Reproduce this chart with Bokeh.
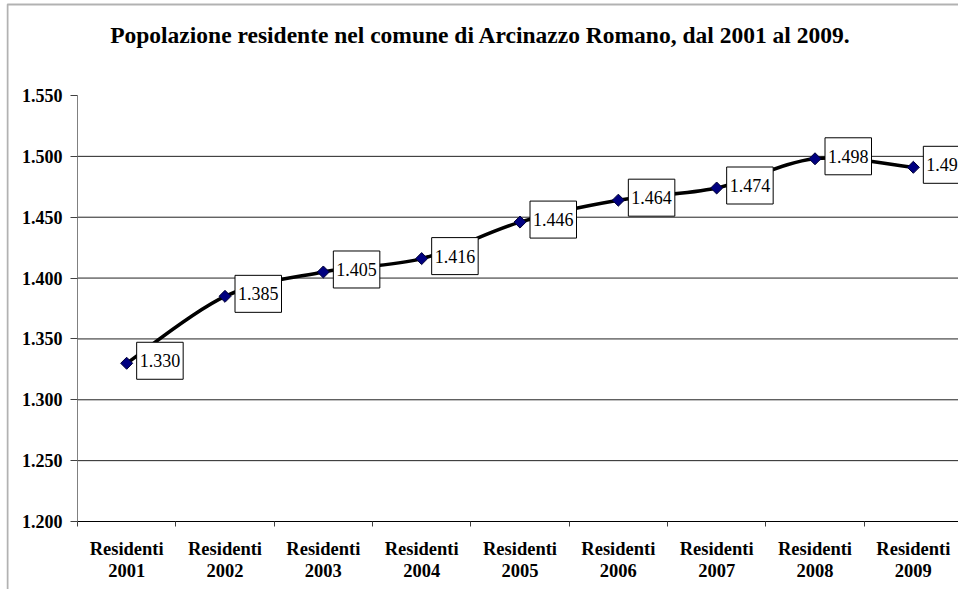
import numpy as np
from bokeh.plotting import figure
from bokeh.models import ColumnDataSource, FixedTicker, Range1d, BoxAnnotation
from bokeh.core.properties import value
from bokeh.embed import file_html
from bokeh.resources import INLINE

# ---- data ----
years = [2001, 2002, 2003, 2004, 2005, 2006, 2007, 2008, 2009]
categories = ["Residenti\n%d" % y for y in years]
residents = [1330, 1385, 1405, 1416, 1446, 1464, 1474, 1498, 1491]
y_ticks = [1200, 1250, 1300, 1350, 1400, 1450, 1500, 1550]
y_tick_labels = ["1.200", "1.250", "1.300", "1.350", "1.400", "1.450", "1.500", "1.550"]
title_text = "Popolazione residente nel comune di Arcinazzo Romano, dal 2001 al 2009."

def it_fmt(v):
    return "%d.%03d" % (v // 1000, v % 1000)

n = len(categories)
xc = np.arange(n) + 0.5
yv = np.array(residents, dtype=float)

# smoothed line (Excel-style cubic Bezier segments through the points)
xp = np.r_[xc[0], xc, xc[-1]]
yp = np.r_[yv[0], yv, yv[-1]]
seg = dict(
    x0=xc[:-1], y0=yv[:-1], x1=xc[1:], y1=yv[1:],
    cx0=xc[:-1] + (xp[2:-1] - xp[0:-3]) / 6.0,
    cy0=yv[:-1] + (yp[2:-1] - yp[0:-3]) / 6.0,
    cx1=xc[1:] - (xp[3:] - xp[1:-2]) / 6.0,
    cy1=yv[1:] - (yp[3:] - yp[1:-2]) / 6.0,
)

src = ColumnDataSource(dict(x=xc, y=yv, lab=[it_fmt(v) for v in residents]))

SERIF = "Liberation Serif"

# ---- layout (pixels) ----
W, H = 958, 589
FRAME_L = 6                                     # drawing frame starts at the chart border
PLOT_L, PLOT_T, PLOT_B = 77, 95, 521            # value area: left, top (1.550), bottom (1.200)
CAT_PX = 885.0 / n                              # width of one category
PXU = (PLOT_B - PLOT_T) / float(y_ticks[-1] - y_ticks[0])   # px per resident

def xd(px):   # canvas x pixel -> data x
    return (px - PLOT_L) / CAT_PX

def yd(py):   # canvas y pixel -> data y
    return y_ticks[0] + (PLOT_B - py) / PXU

p = figure(width=W, height=H, title=None,
           x_range=Range1d(xd(FRAME_L), xd(W)), y_range=Range1d(yd(H), yd(0)),
           output_backend="svg", toolbar_location=None,
           min_border_left=FRAME_L, min_border_right=0,
           min_border_top=0, min_border_bottom=0)
p.outline_line_color = None
p.background_fill_color = "white"
p.border_fill_color = "white"

# grid lines (only across the value area)
p.xgrid.visible = False
p.ygrid.visible = False
grid_y = y_ticks[1:-1]
p.segment(x0=[0] * len(grid_y), x1=[n] * len(grid_y), y0=grid_y, y1=grid_y,
          line_color="#222222", line_width=1)

# y axis, pinned at the left edge of the value area
p.yaxis.fixed_location = 0
p.yaxis.bounds = (y_ticks[0], y_ticks[-1])
p.yaxis.ticker = FixedTicker(ticks=y_ticks)
p.yaxis.major_label_overrides = {t: l for t, l in zip(y_ticks, y_tick_labels)}
p.yaxis.axis_line_color = "#808080"
p.yaxis.major_tick_line_color = "#404040"
p.yaxis.major_tick_out = 7
p.yaxis.major_tick_in = 0
p.yaxis.minor_tick_line_color = None
p.yaxis.major_label_standoff = 8
p.yaxis.major_label_text_font = SERIF
p.yaxis.major_label_text_font_style = "bold"
p.yaxis.major_label_text_font_size = "18px"
p.yaxis.major_label_text_color = "black"

# x axis pinned at 1.200: labels at category centres, ticks at category boundaries
p.xaxis.fixed_location = y_ticks[0]
p.xaxis.bounds = (0, n)
p.xaxis.ticker = FixedTicker(ticks=list(xc), minor_ticks=list(range(n + 1)))
p.xaxis.major_label_overrides = {float(x): c for x, c in zip(xc, categories)}
p.xaxis.axis_line_color = "black"
p.xaxis.major_tick_line_color = None
p.xaxis.major_tick_out = 0
p.xaxis.major_tick_in = 0
p.xaxis.minor_tick_line_color = "#404040"
p.xaxis.minor_tick_out = 5
p.xaxis.minor_tick_in = 0
p.xaxis.major_label_standoff = 12
p.xaxis.major_label_text_font = SERIF
p.xaxis.major_label_text_font_style = "bold"
p.xaxis.major_label_text_font_size = "18.5px"
p.xaxis.major_label_text_color = "black"
p.xaxis.major_label_text_line_height = 1.1

# outer chart border (only its top and left edges fall inside the picture)
border = BoxAnnotation(left=xd(7), right=xd(5000), top=yd(4), bottom=yd(5000),
                       fill_alpha=0, line_color="black", line_width=2)
p.add_layout(border)

# title
p.text(x=[xd(480)], y=[yd(34)], text=[title_text], text_align="center",
       text_baseline="alphabetic", text_font=value(SERIF), text_font_style="bold",
       text_font_size="23.5px", text_color="black")

# line + markers
p.bezier(x0="x0", y0="y0", x1="x1", y1="y1", cx0="cx0", cy0="cy0", cx1="cx1", cy1="cy1",
         source=ColumnDataSource(seg), line_color="black", line_width=3.5)
p.scatter(x="x", y="y", source=src, marker="square", angle=np.pi / 4, size=8.5,
          fill_color="#000080", line_color="#000033", line_width=1)

# data labels with boxes
p.text(x="x", y="y", text="lab", source=src, x_offset=10, y_offset=-2.5,
       text_align="left", text_baseline="middle",
       text_font=value(SERIF), text_font_size="18px", text_color="black",
       background_fill_color="white", border_line_color="black",
       border_line_width=1, padding=(3, 12))

open("out.html", "w").write(file_html(p, INLINE))
